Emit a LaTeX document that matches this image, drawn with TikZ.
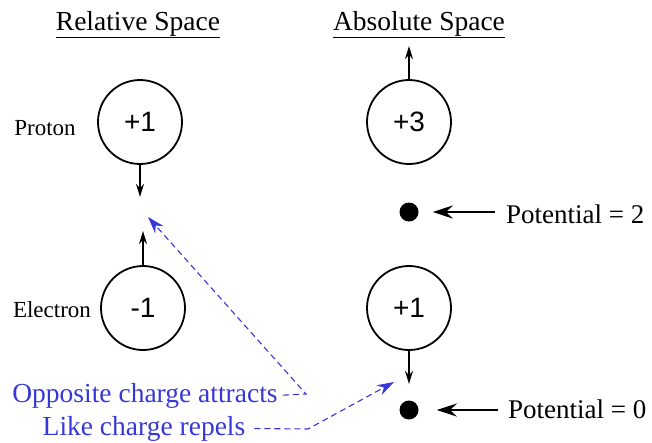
\documentclass[tikz,border=0pt]{standalone}
\usepackage{fontspec}
\setmainfont{Liberation Serif}
\newfontfamily\chargefont{Liberation Sans}
\usepackage{xcolor}
\usetikzlibrary{arrows.meta,positioning}
\definecolor{chargeblue}{RGB}{55,55,215}

\begin{document}
\begin{tikzpicture}[
    x=1pt, y=-1pt, >=Stealth,
    heading/.style={font=\fontsize{27.5}{30}\selectfont, anchor=base, inner sep=0pt},
    charge/.style={draw, circle, line width=1.8pt, minimum size=84pt, inner sep=0pt,
                   font=\chargefont\fontsize{28}{30}\selectfont},
    tag/.style={font=\fontsize{23}{26}\selectfont, anchor=base, inner sep=0pt},
    level/.style={circle, fill, minimum size=19pt, inner sep=0pt},
    potential/.style={font=\fontsize{27}{30}\selectfont, anchor=base west, inner sep=0pt},
    note/.style={font=\fontsize{27.5}{30}\selectfont, text=chargeblue, anchor=base, inner sep=0pt},
    move/.style={->, line width=1.2pt, >={Stealth[length=13pt, width=8pt]}},
    point/.style={->, line width=2pt, >={Stealth[length=20pt, width=13pt]}},
    hint/.style={->, chargeblue, line width=1.1pt, dash pattern=on 6pt off 4pt,
                 >={Stealth[length=17pt, width=11pt]}}
  ]
  \useasboundingbox (0,0) rectangle (652,442);

  % --- headings ---
  \node[heading] (rel) at (138,30) {\underline{Relative Space}};
  \node[heading] (abs) at (419,30) {\underline{Absolute Space}};

  % --- relative space: proton and electron ---
  \node[charge] (proton)   at (140,122) {+1};
  \node[charge] (electron) at (143,308) {-1};
  \node[tag] (ptag) at (45,135) {Proton};
  \node[tag] (etag) at (52,317) {Electron};

  \coordinate[below=32pt of proton.south] (pdown);
  \coordinate[above=34pt of electron.north] (eup);
  \draw[move] (proton.south) -- (pdown);
  \draw[move] (electron.north) -- (eup);

  % --- absolute space: charges and potential levels ---
  \node[charge] (big)   at (409,122) {+3};
  \node[charge] (small) at (409,308) {+1};
  \node[level] (two)  at (409,212) {};
  \node[level] (zero) at (409,410) {};
  \node[potential] (ptwo)  at (506,223) {Potential = 2};
  \node[potential] (pzero) at (508,418) {Potential = 0};

  \coordinate[above=33pt of big.north] (bup);
  \coordinate[below=33pt of small.south] (sdown);
  \draw[move] (big.north) -- (bup);
  \draw[move] (small.south) -- (sdown);

  \draw[point, shorten <=11pt, shorten >=14pt] (two -| ptwo.west) -- (two.east);
  \draw[point, shorten <=10pt, shorten >=18pt] (zero -| pzero.west) -- (zero.east);

  % --- notes ---
  \node[note] (opp)  at (145,402) {Opposite charge attracts};
  \node[note] (like) at (144,435) {Like charge repels};

  \coordinate (attract)  at (148,217);
  \coordinate (repel)    at (394,382);
  \coordinate (oppbend)  at (306,394);
  \coordinate (likebend) at (308,429);

  \draw[hint, shorten <=5pt] (opp.east) -- (oppbend) -- (attract);
  \draw[hint, shorten <=9pt] (like.east) -- (likebend) -- (repel);

\end{tikzpicture}
\end{document}
